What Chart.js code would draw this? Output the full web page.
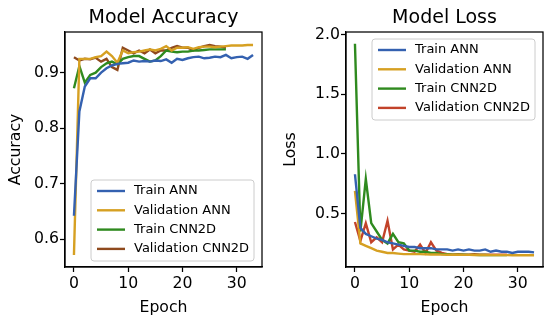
<!DOCTYPE html>
<html><head><meta charset="utf-8">
<script src="https://cdn.jsdelivr.net/npm/chart.js@4"></script>
<style>
html,body{margin:0;padding:0;background:#fff;}
#wrap{position:relative;width:550px;height:325px;}
canvas{position:absolute;top:0;}
</style></head><body>
<div id="wrap">
<canvas id="acc" width="275" height="325" style="left:0"></canvas>
<canvas id="loss" width="275" height="325" style="left:275px"></canvas>
</div>
<script>
const epochsANN = [0,1,2,3,4,5,6,7,8,9,10,11,12,13,14,15,16,17,18,19,20,21,22,23,24,25,26,27,28,29,30,31,32,33];
const epochsCNN = [0,1,2,3,4,5,6,7,8,9,10,11,12,13,14,15,16,17,18,19,20,21,22,23,24,25,26,27,28];
const seriesLabels = ["Train ANN","Validation ANN","Train CNN2D","Validation CNN2D"];
const xTicks = [0,10,20,30];
const accTicks = [0.6,0.7,0.8,0.9];
const lossTicks = [0.5,1.0,1.5,2.0];

const accTrainANN = [0.642,0.83,0.875,0.89,0.89,0.90,0.908,0.913,0.916,0.917,0.918,0.922,0.920,0.921,0.920,0.922,0.921,0.924,0.918,0.925,0.923,0.926,0.928,0.929,0.926,0.927,0.929,0.928,0.932,0.926,0.928,0.929,0.925,0.932];
const accValANN   = [0.571,0.925,0.925,0.925,0.928,0.930,0.938,0.930,0.918,0.940,0.935,0.937,0.938,0.940,0.942,0.940,0.943,0.948,0.940,0.945,0.945,0.946,0.943,0.946,0.947,0.947,0.946,0.947,0.948,0.949,0.949,0.949,0.950,0.950];
const accTrainCNN = [0.872,0.912,0.882,0.896,0.900,0.910,0.917,0.920,0.915,0.925,0.928,0.930,0.930,0.925,0.920,0.922,0.930,0.940,0.938,0.937,0.938,0.938,0.940,0.940,0.941,0.942,0.942,0.942,0.942];
const accValCNN   = [0.928,0.922,0.925,0.924,0.927,0.920,0.925,0.910,0.905,0.945,0.940,0.935,0.940,0.935,0.942,0.935,0.940,0.940,0.945,0.948,0.945,0.945,0.940,0.945,0.948,0.950,0.948,0.947,0.945];

const lossTrainANN = [0.83,0.38,0.33,0.31,0.29,0.28,0.26,0.25,0.24,0.23,0.22,0.22,0.21,0.21,0.21,0.20,0.20,0.20,0.19,0.20,0.19,0.20,0.19,0.19,0.20,0.18,0.19,0.18,0.18,0.17,0.18,0.18,0.18,0.175];
const lossValANN   = [0.69,0.25,0.23,0.21,0.19,0.18,0.17,0.17,0.165,0.16,0.16,0.16,0.16,0.158,0.157,0.157,0.156,0.155,0.155,0.155,0.154,0.154,0.153,0.153,0.153,0.152,0.152,0.152,0.152,0.151,0.151,0.151,0.151,0.151];
const lossTrainCNN = [1.924,0.35,0.79,0.42,0.35,0.28,0.25,0.33,0.26,0.25,0.19,0.19,0.18,0.18,0.17,0.17,0.16,0.16,0.155,0.155,0.155,0.154,0.154,0.153,0.153,0.152,0.152,0.152,0.152];
const lossValCNN   = [0.43,0.27,0.42,0.26,0.30,0.26,0.44,0.20,0.24,0.20,0.19,0.18,0.24,0.17,0.26,0.19,0.17,0.16,0.155,0.16,0.155,0.155,0.16,0.155,0.155,0.155,0.155,0.155,0.155];

const FONT = '"DejaVu Sans"';
const colorsAcc  = ["#3461b0","#d6a022","#2f8a1f","#8f4a1e"];
const colorsLoss = ["#3461b0","#d6a022","#2f8a1f","#c2432a"];

function pts(xs, ys){ return ys.map((v,i)=>({x:xs[i], y:v})); }

const deco = {
  id:'deco',
  afterDraw(chart, args, o){
    const ctx = chart.ctx, a = chart.chartArea;
    ctx.save();
    ctx.strokeStyle='#000'; ctx.lineWidth=1.25;
    ctx.strokeRect(a.left, a.top, a.right-a.left, a.bottom-a.top);
    ctx.fillStyle='#000';
    ctx.textAlign='center'; ctx.textBaseline='alphabetic';
    ctx.font='19px '+FONT;
    ctx.fillText(o.title, (a.left+a.right)/2, 23);
    ctx.font='15.7px '+FONT;
    ctx.fillText(o.xlabel, (a.left+a.right)/2, 312);
    ctx.save(); ctx.translate(20,(a.top+a.bottom)/2); ctx.rotate(-Math.PI/2);
    ctx.fillText(o.ylabel,0,0); ctx.restore();
    const L=o.legend, w=163, h=81, r=3;
    ctx.beginPath();
    ctx.moveTo(L.x+r,L.y); ctx.lineTo(L.x+w-r,L.y); ctx.arcTo(L.x+w,L.y,L.x+w,L.y+r,r);
    ctx.lineTo(L.x+w,L.y+h-r); ctx.arcTo(L.x+w,L.y+h,L.x+w-r,L.y+h,r);
    ctx.lineTo(L.x+r,L.y+h); ctx.arcTo(L.x,L.y+h,L.x,L.y+h-r,r);
    ctx.lineTo(L.x,L.y+r); ctx.arcTo(L.x,L.y,L.x+r,L.y,r); ctx.closePath();
    ctx.fillStyle='rgba(255,255,255,0.8)'; ctx.fill();
    ctx.strokeStyle='#cccccc'; ctx.lineWidth=1; ctx.stroke();
    ctx.font='13px '+FONT;
    chart.data.datasets.forEach((ds,i)=>{
      const y = L.y + 11 + i*19.3;
      ctx.strokeStyle=ds.borderColor; ctx.lineWidth=2.4;
      ctx.beginPath(); ctx.moveTo(L.x+6,y); ctx.lineTo(L.x+34,y); ctx.stroke();
      ctx.fillStyle='#000'; ctx.textAlign='left'; ctx.textBaseline='middle';
      ctx.fillText(ds.label, L.x+43, y);
    });
    ctx.restore();
  }
};

function makeChart(id, sets, colors, yMin, yMax, yTicks, padLeft, padRight, deco_opts){
  const xsList=[epochsANN,epochsANN,epochsCNN,epochsCNN];
  return new Chart(document.getElementById(id), {
    type:'line',
    data:{datasets: sets.map((s,i)=>({label:seriesLabels[i], data:pts(xsList[i], s),
      borderColor:colors[i], backgroundColor:colors[i], borderWidth:2.4, pointRadius:0, tension:0, fill:false}))},
    options:{
      responsive:false, animation:false, devicePixelRatio:1,
      layout:{padding:{left:0,right:padRight,top:32,bottom:0}},
      plugins:{legend:{display:false}, tooltip:{enabled:false}, deco:deco_opts},
      scales:{
        x:{type:'linear', min:-1.65, max:34.65,
          afterBuildTicks:(s)=>{ s.ticks = xTicks.map(v=>({value:v})); },
          afterFit:(s)=>{ s.height = 325-267; },
          grid:{drawOnChartArea:false, drawTicks:true, tickLength:5, tickColor:'#000', tickWidth:1.25},
          border:{display:true, color:'#000', width:1.25},
          ticks:{color:'#000', font:{family:FONT, size:15.7}, padding:3, maxRotation:0, callback:(v)=>String(v)}
        },
        y:{type:'linear', min:yMin, max:yMax,
          afterBuildTicks:(s)=>{ s.ticks = yTicks.map(v=>({value:v})); },
          afterFit:(s)=>{ s.width = padLeft; },
          grid:{drawOnChartArea:false, drawTicks:true, tickLength:5, tickColor:'#000', tickWidth:1.25},
          border:{display:true, color:'#000', width:1.25},
          ticks:{color:'#000', font:{family:FONT, size:15.7}, padding:1, callback:(v)=>Number(v).toFixed(1)}
        }
      }
    },
    plugins:[deco]
  });
}

makeChart('acc', [accTrainANN,accValANN,accTrainCNN,accValCNN], colorsAcc, 0.5495, 0.9734, accTicks, 65, 13,
  {title:'Model Accuracy', xlabel:'Epoch', ylabel:'Accuracy', legend:{x:91,y:180}});
makeChart('loss', [lossTrainANN,lossValANN,lossTrainCNN,lossValCNN], colorsLoss, 0.0524, 2.0226, lossTicks, 71, 7,
  {title:'Model Loss', xlabel:'Epoch', ylabel:'Loss', legend:{x:97,y:39}});
</script>
</body></html>
